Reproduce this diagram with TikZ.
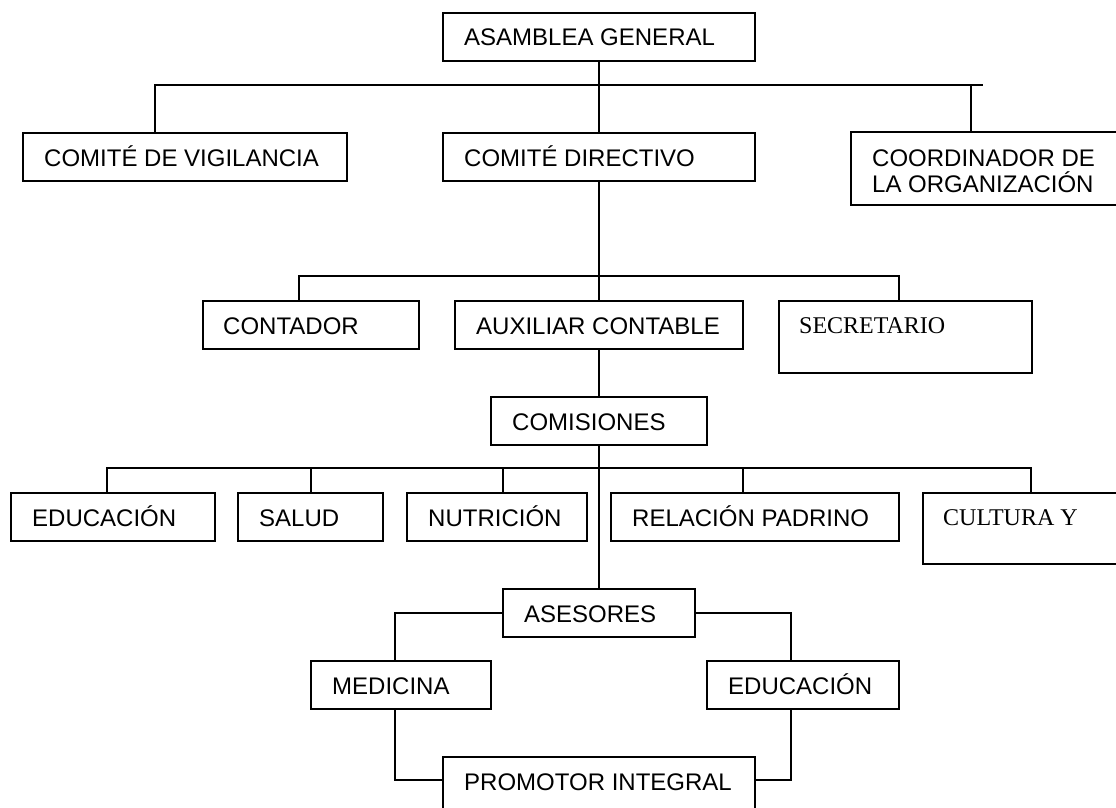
\documentclass[tikz,border=0pt]{standalone}
\usepackage{fontspec}
\setmainfont{Liberation Sans}
\newfontfamily\serifface{Liberation Serif}
\usetikzlibrary{calc}
\tikzset{
  box/.style={draw, line width=1.8pt, rectangle, inner sep=0pt, outer sep=0pt, anchor=north west},
  lbl/.style={anchor=base west, inner sep=0pt, font=\fontsize{24}{27}\selectfont},
  slbl/.style={anchor=base west, inner sep=0pt, font=\serifface\fontsize{24}{27}\selectfont},
  conn/.style={line width=1.8pt}
}
\newcommand\orgbox[5]{% name, left, top, right, bottom
  \node[box, minimum width={#4pt-#2pt}, minimum height={#5pt-#3pt}] (#1) at (#2,#3) {};}
\begin{document}
\begin{tikzpicture}[x=1pt, y=-1pt]
\useasboundingbox (0,0) rectangle (1116,808);
\clip (0,0) rectangle (1116,808);
\fill[white] (0,0) rectangle (1116,808);

% boxes
\orgbox{asm}{443}{13}{755}{61}
\orgbox{vig}{23}{133}{347}{181}
\orgbox{dir}{443}{133}{755}{181}
\orgbox{coo}{851}{132}{1130}{205}
\orgbox{con}{203}{301}{419}{349}
\orgbox{aux}{455}{301}{743}{349}
\orgbox{sec}{779}{301}{1032}{373}
\orgbox{com}{491}{397}{707}{445}
\orgbox{edu}{11}{493}{215}{541}
\orgbox{sal}{238}{493}{383}{541}
\orgbox{nut}{407}{493}{587}{541}
\orgbox{rel}{611}{493}{899}{541}
\orgbox{cul}{923}{493}{1130}{564}
\orgbox{ase}{503}{589}{695}{637}
\orgbox{med}{311}{661}{491}{709}
\orgbox{edb}{707}{661}{899}{709}
\orgbox{pro}{443}{757}{755}{830}

% labels
\node[lbl] (tasm) at ($(asm.north west)+(21,33)$) {ASAMBLEA GENERAL};
\node[lbl] (tvig) at ($(vig.north west)+(21,33)$) {COMITÉ DE VIGILANCIA};
\node[lbl] (tdir) at ($(dir.north west)+(21,33)$) {COMITÉ DIRECTIVO};
\node[lbl] (tcoo1) at ($(coo.north west)+(21,34)$) {COORDINADOR DE};
\node[lbl] (tcoo2) at ($(coo.north west)+(21,60)$) {LA ORGANIZACIÓN};
\node[lbl] (tcon) at ($(con.north west)+(20,33)$) {CONTADOR};
\node[lbl] (taux) at ($(aux.north west)+(21,33)$) {AUXILIAR CONTABLE};
\node[slbl] (tsec) at ($(sec.north west)+(20,32)$) {SECRETARIO};
\node[lbl] (tcom) at ($(com.north west)+(21,33)$) {COMISIONES};
\node[lbl] (tedu) at ($(edu.north west)+(21,33)$) {EDUCACIÓN};
\node[lbl] (tsal) at ($(sal.north west)+(21,33)$) {SALUD};
\node[lbl] (tnut) at ($(nut.north west)+(21,33)$) {NUTRICIÓN};
\node[lbl] (trel) at ($(rel.north west)+(21,33)$) {RELACIÓN PADRINO};
\node[slbl] (tcul) at ($(cul.north west)+(20,32)$) {CULTURA Y};
\node[lbl] (tase) at ($(ase.north west)+(21,33)$) {ASESORES};
\node[lbl] (tmed) at ($(med.north west)+(21,33)$) {MEDICINA};
\node[lbl] (tedb) at ($(edb.north west)+(21,33)$) {EDUCACIÓN};
\node[lbl] (tpro) at ($(pro.north west)+(21,33)$) {PROMOTOR INTEGRAL};

% level 1
\coordinate (b1L) at (155,85);
\coordinate (b1C) at (971,85);
\coordinate (b1R) at (983,85);
\draw[conn] (asm.south) -- (dir.north);
\draw[conn] (b1L |- vig.north) -- (b1L) -- (b1R);
\draw[conn] (b1C) -- (b1C |- coo.north);

% level 2
\coordinate (b2L) at (299,276);
\coordinate (b2R) at (899,276);
\draw[conn] (dir.south) -- (aux.north);
\draw[conn] (b2L |- con.north) -- (b2L) -- (b2R) -- (b2R |- sec.north);

% comisiones
\draw[conn] (aux.south) -- (com.north);
\draw[conn] (com.south) -- (ase.north);
\coordinate (b3L) at (107,468);
\coordinate (b3R) at (1031,468);
\coordinate (dsal) at (311,468);
\coordinate (dnut) at (503,468);
\coordinate (drel) at (743,468);
\draw[conn] (b3L |- edu.north) -- (b3L) -- (b3R) -- (b3R |- cul.north);
\draw[conn] (dsal) -- (dsal |- sal.north);
\draw[conn] (dnut) -- (dnut |- nut.north);
\draw[conn] (drel) -- (drel |- rel.north);

% asesores
\coordinate (aL) at (395,613);
\coordinate (aR) at (791,613);
\coordinate (mL) at (395,780);
\coordinate (mR) at (791,780);
\draw[conn] (ase.west |- aL) -- (aL) -- (aL |- med.north);
\draw[conn] (ase.east |- aR) -- (aR) -- (aR |- edb.north);
\draw[conn] (mL |- med.south) -- (mL) -- (mL -| pro.west);
\draw[conn] (mR |- edb.south) -- (mR) -- (mR -| pro.east);
\end{tikzpicture}
\end{document}
